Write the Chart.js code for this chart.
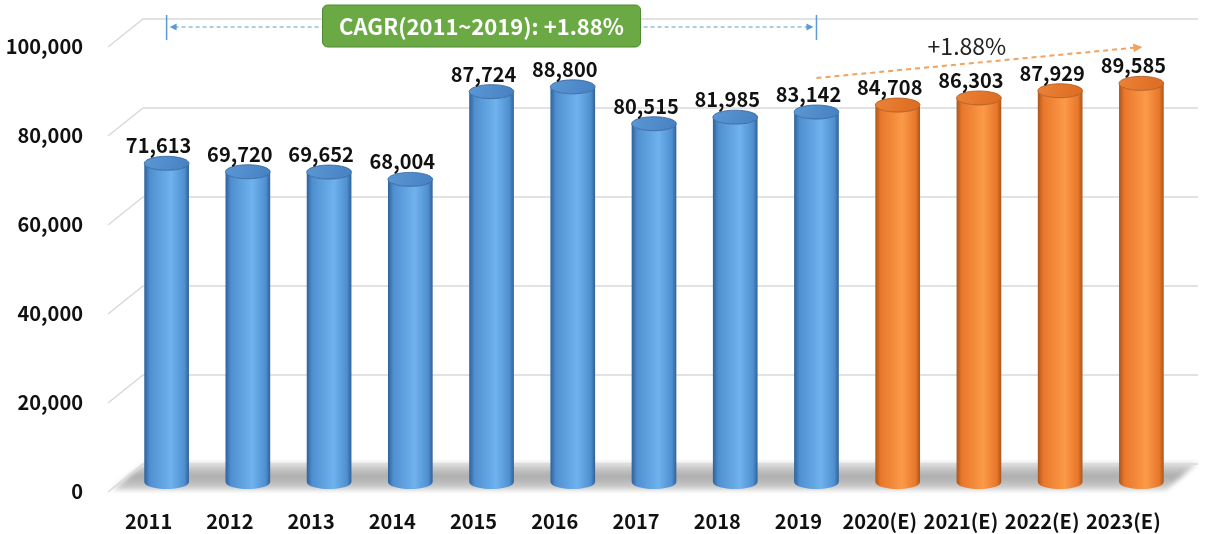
<!DOCTYPE html>
<html>
<head>
<meta charset="utf-8">
<script src="https://cdn.jsdelivr.net/npm/chart.js@4.4.0/dist/chart.umd.min.js"></script>
<style>
  html, body { margin: 0; padding: 0; background: #fff; }
  #wrap { width: 1207px; height: 534px; }
</style>
</head>
<body>
<div id="wrap"><canvas id="chart" width="1207" height="534"></canvas></div>
<script>
// Data
const years = ["2011", "2012", "2013", "2014", "2015", "2016", "2017", "2018", "2019",
               "2020(E)", "2021(E)", "2022(E)", "2023(E)"];
const values = [71613, 69720, 69652, 68004, 87724, 88800, 80515, 81985, 83142,
                84708, 86303, 87929, 89585];
const firstForecast = 9; // 2020(E) onwards drawn orange
const yTicks = [0, 20000, 40000, 60000, 80000, 100000];
const cagrText = "CAGR(2011~2019): +1.88%";
const forecastText = "+1.88%";

const FONT = "'Noto Sans CJK KR', 'Noto Sans', sans-serif";
Chart.defaults.font.family = FONT;

const blue = { edge: "#2f6199", mid: "#4f8fd0", light: "#6fb2ee", top: "#4680c2", topLight: "#5b97d4" };
const orange = { edge: "#a9561c", mid: "#e9772b", light: "#fb9a48", top: "#db6b20", topLight: "#ec8236" };

// draws one cylinder from value pixel to base
function drawCylinder(ctx, cx, top, base, w, c) {
    const rx = w / 2, ry = 7;
    const l = cx - rx, r = cx + rx;
    const g = ctx.createLinearGradient(l, 0, r, 0);
    g.addColorStop(0, c.edge);
    g.addColorStop(0.12, c.mid);
    g.addColorStop(0.6, c.light);
    g.addColorStop(0.9, c.mid);
    g.addColorStop(1, c.edge);
    ctx.beginPath();
    ctx.moveTo(l, top);
    ctx.lineTo(l, base);
    ctx.ellipse(cx, base, rx, ry, 0, Math.PI, 0, true);
    ctx.lineTo(r, top);
    ctx.ellipse(cx, top, rx, ry, 0, 0, Math.PI, false);
    ctx.closePath();
    ctx.fillStyle = g;
    ctx.fill();

    const tg = ctx.createLinearGradient(l, top - ry, r, top + ry);
    tg.addColorStop(0, c.topLight);
    tg.addColorStop(1, c.top);
    ctx.beginPath();
    ctx.ellipse(cx, top, rx, ry, 0, 0, Math.PI * 2);
    ctx.fillStyle = tg;
    ctx.fill();
    ctx.lineWidth = 0.8;
    ctx.strokeStyle = c.edge;
    ctx.stroke();
}

function arrowHead(ctx, x, y, angle, len, half, color) {
    ctx.save();
    ctx.translate(x, y);
    ctx.rotate(angle);
    ctx.beginPath();
    ctx.moveTo(0, 0);
    ctx.lineTo(-len, -half);
    ctx.lineTo(-len, half);
    ctx.closePath();
    ctx.fillStyle = color;
    ctx.fill();
    ctx.restore();
}

// floor + slanted gridlines (3D look)
const backdropPlugin = {
    id: "backdrop",
    beforeDatasetsDraw(chart) {
        const ctx = chart.ctx;
        const y = chart.scales.y;
        const area = chart.chartArea;
        const frontX = area.left - 18, backX = area.left + 17, rightX = chart.width - 9;
        const base = y.getPixelForValue(0);

        // floor
        ctx.save();
        ctx.filter = "blur(2.5px)";
        const fg = ctx.createLinearGradient(0, base - 19, 0, base + 8);
        fg.addColorStop(0, "#dcdcdc");
        fg.addColorStop(0.5, "#ababab");
        fg.addColorStop(1, "#d4d4d4");
        ctx.beginPath();
        ctx.moveTo(frontX + 4, base + 8);
        ctx.lineTo(rightX - 32, base + 8);
        ctx.lineTo(rightX, base - 19);
        ctx.lineTo(backX + 2, base - 19);
        ctx.closePath();
        ctx.fillStyle = fg;
        ctx.fill();
        ctx.restore();

        // gridlines
        ctx.save();
        ctx.strokeStyle = "#d9d9d9";
        ctx.lineWidth = 1.5;
        yTicks.forEach(v => {
            const py = y.getPixelForValue(v);
            ctx.beginPath();
            ctx.moveTo(frontX, py + 10);
            ctx.lineTo(backX, py - 18);
            ctx.lineTo(rightX, py - 18);
            ctx.stroke();
        });
        ctx.restore();
    }
};

const cylinderPlugin = {
    id: "cylinders",
    afterDatasetsDraw(chart) {
        const ctx = chart.ctx;
        const meta = chart.getDatasetMeta(0);
        ctx.save();
        meta.data.forEach((bar, i) => {
            const c = i >= firstForecast ? orange : blue;
            drawCylinder(ctx, bar.x, bar.y, bar.base, bar.width, c);
            ctx.fillStyle = "#111";
            ctx.font = "bold 20px " + FONT;
            ctx.textAlign = "center";
            ctx.textBaseline = "alphabetic";
            ctx.fillText(values[i].toLocaleString("en-US"), bar.x - 8, bar.y - 10);
        });
        ctx.restore();

        // CAGR annotation
        const x1 = meta.data[0].x, x2 = meta.data[firstForecast - 1].x;
        const lineY = 27;
        ctx.save();
        ctx.strokeStyle = "#5b9bd5";
        ctx.lineWidth = 1.5;
        [x1, x2].forEach(x => {
            ctx.beginPath();
            ctx.moveTo(x, 15);
            ctx.lineTo(x, 40);
            ctx.stroke();
        });
        ctx.setLineDash([4, 3]);
        ctx.lineWidth = 1.2;
        ctx.beginPath();
        ctx.moveTo(x1 + 8, lineY);
        ctx.lineTo(x2 - 8, lineY);
        ctx.stroke();
        ctx.setLineDash([]);
        arrowHead(ctx, x1 + 3, lineY, Math.PI, 7, 3.5, "#5b9bd5");
        arrowHead(ctx, x2 - 3, lineY, 0, 7, 3.5, "#5b9bd5");

        const bw = 318, bh = 42, bx = (x1 + x2) / 2 - 10 - bw / 2, by = 5;
        ctx.beginPath();
        ctx.roundRect(bx, by, bw, bh, 5);
        ctx.fillStyle = "#6aa944";
        ctx.fill();
        ctx.strokeStyle = "#4e8a2e";
        ctx.lineWidth = 1;
        ctx.stroke();
        let fs = 26;
        ctx.font = "bold " + fs + "px " + FONT;
        while (ctx.measureText(cagrText).width > 296 && fs > 16) {
            fs -= 1;
            ctx.font = "bold " + fs + "px " + FONT;
        }
        ctx.fillStyle = "#fff";
        ctx.textAlign = "center";
        ctx.textBaseline = "middle";
        ctx.fillText(cagrText, bx + bw / 2, by + bh / 2 + 1);

        // forecast arrow
        const x3 = meta.data[meta.data.length - 1].x;
        ctx.strokeStyle = "#f3a25e";
        ctx.lineWidth = 2;
        ctx.setLineDash([5, 4]);
        ctx.beginPath();
        ctx.moveTo(x2, 78);
        ctx.lineTo(x3 - 6, 47.6);
        ctx.stroke();
        ctx.setLineDash([]);
        arrowHead(ctx, x3 + 1, 47, Math.atan2(47 - 78, x3 - x2), 9, 4.5, "#f3a25e");
        ctx.fillStyle = "#222";
        ctx.font = "23px " + FONT;
        ctx.fillText(forecastText, (x2 + x3) / 2 - 12, 46);
        ctx.restore();
    }
};

new Chart(document.getElementById("chart"), {
    type: "bar",
    data: {
        labels: years,
        datasets: [{
            data: values,
            backgroundColor: "rgba(0,0,0,0)",
            borderWidth: 0,
            barPercentage: 0.55,
            categoryPercentage: 1
        }]
    },
    options: {
        responsive: false,
        animation: false,
        layout: { padding: { top: 37, right: 25, left: 0, bottom: 0 } },
        plugins: { legend: { display: false }, tooltip: { enabled: false } },
        scales: {
            x: {
                grid: { display: false, drawTicks: false },
                border: { display: false },
                ticks: {
                    color: "#111",
                    font: { size: 20, weight: "bold" },
                    padding: 27,
                    labelOffset: -18,
                    maxRotation: 0,
                    autoSkip: false
                },
                afterFit(scale) {
                    scale.height = 52;
                    scale.paddingLeft = 0;
                    scale.paddingRight = 0;
                }
            },
            y: {
                min: 0,
                max: 100000,
                grid: { display: false, drawTicks: false },
                border: { display: false },
                ticks: {
                    stepSize: 20000,
                    color: "#111",
                    font: { size: 20, weight: "bold" },
                    padding: 43,
                    labelOffset: 9,
                    callback: v => v.toLocaleString("en-US")
                },
                afterFit(scale) {
                    scale.width = 126;
                    scale.paddingTop = 0;
                    scale.paddingBottom = 0;
                }
            }
        }
    },
    plugins: [backdropPlugin, cylinderPlugin]
});
</script>
</body>
</html>
